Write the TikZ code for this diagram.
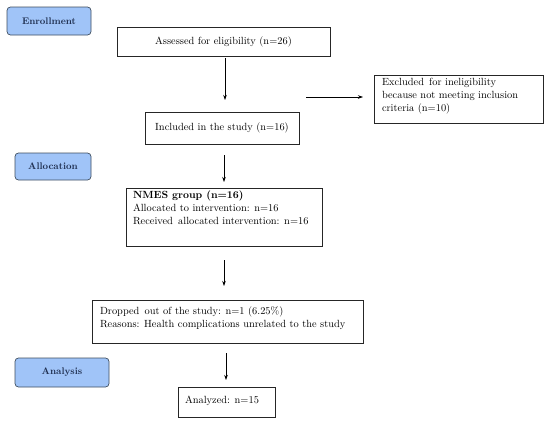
\documentclass[tikz,border=0pt]{standalone}
\usetikzlibrary{arrows.meta}
\definecolor{phasefill}{HTML}{A0C4F8}
\definecolor{phasedraw}{HTML}{3F4F60}
\definecolor{phasetext}{HTML}{1F2F50}
\begin{document}
\begin{tikzpicture}[x=1pt,y=-1pt,
  every node/.style={inner sep=0pt, outer sep=0pt},
  txt/.style={font=\fontsize{10.4}{13}\selectfont},
  flowbox/.style={draw=black!85, line width=0.6pt, txt},
  phasebox/.style={draw=phasedraw, fill=phasefill, line width=0.7pt, rounded corners=3.5pt,
     font=\fontsize{9.6}{12}\selectfont\bfseries, text=phasetext},
  arr/.style={-{Stealth[length=5pt,width=3.5pt]}, line width=0.6pt, black}]
\useasboundingbox (0,0) rectangle (550,426);
\fill[white] (0,0) rectangle (550,426);
% phase labels
\node[phasebox, minimum width=84pt, minimum height=28pt] (enr) at (49,21) {Enrollment};
\node[phasebox, minimum width=76pt, minimum height=27pt] (alloc) at (53,166.5) {Allocation};
\node[phasebox, minimum width=94pt, minimum height=29pt] (anal) at (62,372.5) {Analysis};
% boxes
\node[flowbox, minimum width=213pt, minimum height=29pt] (assess) at (223.5,41.5) {Assessed for eligibility (n=26)};
\node[flowbox, minimum width=154pt, minimum height=32pt] (incl) at (222,128) {Included in the study (n=16)};
\node[flowbox, minimum width=169pt, minimum height=48pt] (excl) at (458.5,99) {};
\node[anchor=north west, txt, align=left] (excltxt) at (382,78.5)
  {Excluded\, for ineligibility\\because not meeting inclusion\\criteria (n=10)};
\node[flowbox, minimum width=196pt, minimum height=58pt] (nmes) at (224,217) {};
\node[anchor=north west, txt, align=left] (nmestxt) at (133,190.5)
  {\textbf{NMES group (n=16)}\\Allocated to intervention: n=16\\Received\, allocated intervention: n=16};
\node[flowbox, minimum width=271pt, minimum height=43pt] (drop) at (227.5,321.5) {};
\node[anchor=north west, txt, align=left] (droptxt) at (100,306.5)
  {Dropped\, out of the study: n=1 (6.25\%)\\Reasons: Health complications unrelated to the study};
\node[flowbox, minimum width=97pt, minimum height=30pt] (ana) at (226.5,402) {};
\node[anchor=west, txt] (anatxt) at (185,401) {Analyzed: n=15};
% arrow end points
\coordinate (a1s) at (225,58);  \coordinate (a1e) at (225,100);
\coordinate (hs) at (306,97);   \coordinate (he) at (363,97);
\coordinate (a2s) at (224,155); \coordinate (a2e) at (224,182);
\coordinate (a3s) at (224,260); \coordinate (a3e) at (224,286);
\coordinate (a4s) at (226,353); \coordinate (a4e) at (226,380);
\draw[arr] (a1s) -- (a1e);
\draw[arr] (hs) -- (he);
\draw[arr] (a2s) -- (a2e);
\draw[arr] (a3s) -- (a3e);
\draw[arr] (a4s) -- (a4e);
\end{tikzpicture}
\end{document}
